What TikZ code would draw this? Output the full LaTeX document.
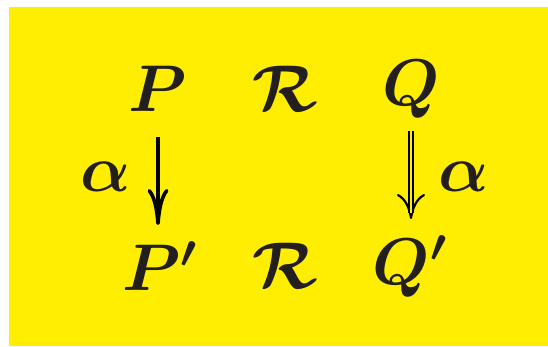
\RequirePackage{fix-cm}
\documentclass[tikz,border=0pt]{standalone}
\usepackage{amsmath,amssymb}
\usepackage{tikz}
\usetikzlibrary{arrows.meta,positioning,calc}
\definecolor{bgyellow}{RGB}{255,238,0}
\definecolor{inkgray}{RGB}{35,31,32}

\begin{document}
\begin{tikzpicture}[x=0.5pt,y=-0.5pt,
    sym/.style={inner sep=0pt, anchor=base, text=inkgray, font=\fontsize{33}{36}\selectfont\boldmath},
    lbl/.style={inner sep=0pt, text=inkgray, font=\fontsize{33}{36}\selectfont\boldmath},
    arr/.style={line width=1.8pt, -{Computer Modern Rightarrow[length=18pt,width=10.5pt]}},
    dhead/.style={line width=1.1pt, -{Computer Modern Rightarrow[length=12.5pt,width=14pt]}},
    dshaft/.style={line width=1pt, double=bgyellow, double distance=1.2pt}
  ]
    \useasboundingbox (0,0) rectangle (548,347);
    \fill[bgyellow] (9,7) rectangle (548,346);
    % top row
    \node[sym] (P)  at (158,112) {$P$};
    \node[sym] (R1) at (285,112) {$\mathcal{R}$};
    \node[sym] (Q)  at (411,106) {$Q$};
    % bottom row
    \node[sym] (P') at (160,291) {$P'$};
    \node[sym] (R2) at (285,289) {$\mathcal{R}$};
    \node[sym] (Q') at (410,285) {$Q'$};
    % maps
    \draw[arr, shorten <=12.5pt, shorten >=8pt] (P.south) -- (P.south |- P'.north);
    \draw[dhead, shorten <=6pt, shorten >=8pt] (Q.south) -- (Q.south |- Q'.north);
    \draw[dshaft, shorten <=6pt, shorten >=11pt] (Q.south) -- (Q.south |- Q'.north);
    \node[lbl] (a1) at (106,177) {$\alpha$};
    \node[lbl] (a2) at (464,177) {$\alpha$};
  \end{tikzpicture}
\end{document}
